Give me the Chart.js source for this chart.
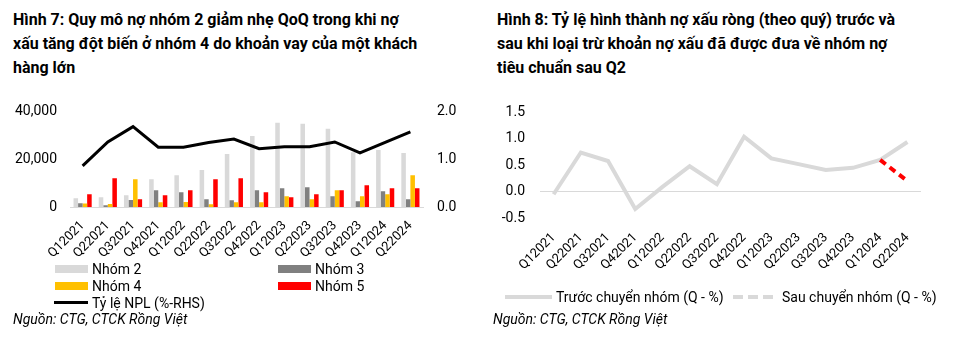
<!DOCTYPE html>
<html>
<head>
<meta charset="utf-8">
<title>Nợ nhóm 2-5 và tỷ lệ hình thành nợ xấu - CTG</title>
<script src="https://cdn.jsdelivr.net/npm/chart.js@4.4.1/dist/chart.umd.min.js"></script>
<style>
  body { margin: 0; width: 965px; height: 338px; background: #fff; font-family: Roboto, "Noto Sans", sans-serif; color: #000; position: relative; overflow: hidden; }
  .title { position: absolute; top: 8px; font-weight: bold; font-size: 16px; line-height: 24px; white-space: nowrap; }
  .src { position: absolute; top: 311px; font-style: italic; font-size: 14px; white-space: nowrap; }
  .lg { position: absolute; font-size: 14px; line-height: 18px; white-space: nowrap; }
  .sw { position: absolute; }
  #wrap1 { position: absolute; left: 0; top: 89px; width: 480px; height: 176px; }
  #wrap2 { position: absolute; left: 480px; top: 89px; width: 485px; height: 186px; }
</style>
</head>
<body>

<div class="title" style="left:13px">Hình 7: Quy mô nợ nhóm 2 giảm nhẹ QoQ trong khi nợ<br>xấu tăng đột biến ở nhóm 4 do khoản vay của một khách<br>hàng lớn</div>
<div class="title" style="left:497px">Hình 8: Tỷ lệ hình thành nợ xấu ròng (theo quý) trước và<br>sau khi loại trừ khoản nợ xấu đã được đưa về nhóm nợ<br>tiêu chuẩn sau Q2</div>

<div id="wrap1"><canvas id="chartNhom"></canvas></div>
<div id="wrap2"><canvas id="chartNoXau"></canvas></div>

<!-- legend hinh 7 -->
<div class="sw" style="left:55px;top:265px;width:33px;height:8px;background:#d9d9d9"></div>
<div class="lg" style="left:92px;top:260px">Nhóm 2</div>
<div class="sw" style="left:278px;top:265px;width:33px;height:8px;background:#808080"></div>
<div class="lg" style="left:315px;top:260px">Nhóm 3</div>
<div class="sw" style="left:55px;top:282px;width:33px;height:8px;background:#ffc000"></div>
<div class="lg" style="left:92px;top:277px">Nhóm 4</div>
<div class="sw" style="left:278px;top:282px;width:33px;height:8px;background:#ff0000"></div>
<div class="lg" style="left:315px;top:277px">Nhóm 5</div>
<div class="sw" style="left:54px;top:301px;width:34px;height:3px;background:#000"></div>
<div class="lg" style="left:92px;top:294px">Tỷ lệ NPL (%-RHS)</div>

<!-- legend hinh 8 -->
<div class="sw" style="left:505px;top:295px;width:47px;height:4px;background:#d9d9d9"></div>
<div class="lg" style="left:556px;top:288px">Trước chuyển nhóm (Q - %)</div>
<div class="sw" style="left:733px;top:295px;width:10px;height:4px;background:#d9d9d9"></div>
<div class="sw" style="left:748px;top:295px;width:10px;height:4px;background:#d9d9d9"></div>
<div class="sw" style="left:763px;top:295px;width:10px;height:4px;background:#d9d9d9"></div>
<div class="lg" style="left:782px;top:288px">Sau chuyển nhóm (Q - %)</div>

<div class="src" style="left:13px">Nguồn: CTG, CTCK Rồng Việt</div>
<div class="src" style="left:493px">Nguồn: CTG, CTCK Rồng Việt</div>

<script>
	var quarters = ['Q12021','Q22021','Q32021','Q42021','Q12022','Q22022','Q32022','Q42022','Q12023','Q22023','Q32023','Q42023','Q12024','Q22024'];

	// du no theo nhom (ty dong)
	var nhom2 = [3650, 4070, 4900, 11650, 13330, 15440, 22200, 29750, 35230, 34800, 32700, 22900, 23860, 22600];
	var nhom3 = [1540, 700, 2950, 7020, 6180, 3230, 2810, 7020, 7860, 8280, 4490, 2390, 6600, 3230];
	var nhom4 = [1500, 1260, 11650, 1960, 2100, 1120, 1960, 1960, 4490, 3230, 7020, 4490, 5330, 13330];
	var nhom5 = [5300, 12070, 3230, 4900, 7020, 11650, 12070, 6200, 4070, 5330, 7020, 9120, 7860, 7860];
	var nplRatio = [0.86, 1.36, 1.68, 1.25, 1.25, 1.35, 1.42, 1.22, 1.26, 1.26, 1.36, 1.13, 1.35, 1.57];

	// ty le hinh thanh no xau rong (%)
	var truocChuyen = [-0.05, 0.74, 0.58, -0.33, 0.09, 0.48, 0.14, 1.04, 0.63, 0.52, 0.41, 0.45, 0.60, 0.94];
	var sauChuyen = [null, null, null, null, null, null, null, null, null, null, null, null, 0.60, 0.20];

	var leftTicks = [0, 20000, 40000];
	var rightTicks = [0, 1, 2];

	Chart.defaults.font.family = 'Roboto, "Noto Sans", sans-serif';
	Chart.defaults.font.size = 14;
	Chart.defaults.color = '#000';
	Chart.defaults.animation = false;

	function fixWidth(w) {
		return function(scale) { scale.width = w; };
	}
	function fixHeight(h) {
		return function(scale) { scale.height = h; };
	}

	function drawNhomChart() {
		var ctx = document.getElementById('chartNhom').getContext('2d');
		var barDs = function(label, data, color) {
			return { type: 'bar', label: label, data: data, backgroundColor: color, yAxisID: 'y', order: 2,
				categoryPercentage: 0.72, barPercentage: 1.0 };
		};
		new Chart(ctx, {
			data: {
				labels: quarters,
				datasets: [
					{ type: 'line', label: 'Tỷ lệ NPL (%-RHS)', data: nplRatio, borderColor: '#000', borderWidth: 3,
					  pointRadius: 0, tension: 0, yAxisID: 'y1', order: 1 },
					barDs('Nhóm 2', nhom2, '#d9d9d9'),
					barDs('Nhóm 3', nhom3, '#808080'),
					barDs('Nhóm 4', nhom4, '#ffc000'),
					barDs('Nhóm 5', nhom5, '#ff0000')
				]
			},
			options: {
				responsive: true,
				maintainAspectRatio: false,
				layout: { padding: { top: 9, left: 0, right: 0, bottom: 0 } },
				plugins: { legend: { display: false }, tooltip: { enabled: false } },
				scales: {
					x: {
						grid: { display: false, drawTicks: false },
						border: { display: true, color: '#d9d9d9', width: 1 },
						ticks: { autoSkip: false, minRotation: 45, maxRotation: 45, padding: 11, font: { size: 13 } },
						afterFit: fixHeight(58)
					},
					y: {
						position: 'left',
						min: 0, max: 40000,
						grid: { display: false, drawTicks: false },
						border: { display: false },
						afterBuildTicks: function(scale) { scale.ticks = leftTicks.map(function(v) { return { value: v }; }); },
						ticks: { padding: 13, callback: function(v) { return v.toLocaleString('en-US'); } },
						afterFit: fixWidth(70)
					},
					y1: {
						position: 'right',
						min: 0, max: 2,
						grid: { display: false, drawTicks: false },
						border: { display: false },
						afterBuildTicks: function(scale) { scale.ticks = rightTicks.map(function(v) { return { value: v }; }); },
						ticks: { padding: 14, callback: function(v) { return v.toFixed(1); } },
						afterFit: fixWidth(57)
					}
				}
			}
		});
	}

	function drawNoXauChart() {
		var ctx = document.getElementById('chartNoXau').getContext('2d');
		new Chart(ctx, {
			type: 'line',
			data: {
				labels: quarters,
				datasets: [
					{ label: 'Trước chuyển nhóm (Q - %)', data: truocChuyen, borderColor: '#d9d9d9', borderWidth: 4,
					  pointRadius: 0, tension: 0, order: 1 },
					{ label: 'Sau chuyển nhóm (Q - %)', data: sauChuyen, borderColor: '#ff0000', borderWidth: 4,
					  borderDash: [7, 5], pointRadius: 0, tension: 0, spanGaps: false, order: 0 }
				]
			},
			options: {
				responsive: true,
				maintainAspectRatio: false,
				layout: { padding: { top: 9, left: 0, right: 44, bottom: 0 } },
				plugins: { legend: { display: false }, tooltip: { enabled: false } },
				scales: {
					x: {
						offset: true,
						grid: { display: false, drawTicks: false },
						border: { display: false },
						ticks: { autoSkip: false, minRotation: 45, maxRotation: 45, padding: 12, font: { size: 13 } },
						afterFit: fixHeight(57)
					},
					y: {
						min: -0.5, max: 1.5,
						grid: {
							drawTicks: false,
							color: function(c) { return c.tick && c.tick.value === 0 ? '#d9d9d9' : 'rgba(0,0,0,0)'; }
						},
						border: { display: false },
						ticks: { stepSize: 0.5, padding: 15, callback: function(v) { return v.toFixed(1); } },
						afterFit: fixWidth(60)
					}
				}
			}
		});
	}

	drawNhomChart();
	drawNoXauChart();
</script>
</body>
</html>
